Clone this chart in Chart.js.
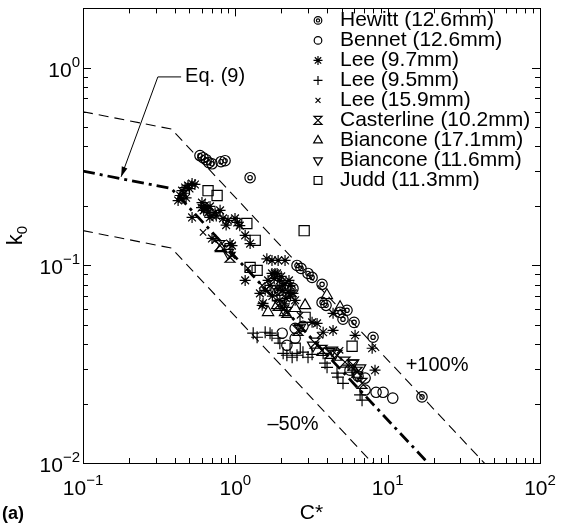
<!DOCTYPE html>
<html>
<head>
<meta charset="utf-8">
<script src="https://cdn.jsdelivr.net/npm/chart.js@4.4.0/dist/chart.umd.min.js"></script>
<style>
  html, body { margin: 0; padding: 0; background: #fff; }
</style>
</head>
<body>
<canvas id="chart" width="567" height="526"></canvas>
<script>
// data: [C*, k0]
const hewitt = [[0.586,0.36],[0.614,0.351],[0.643,0.343],[0.671,0.331],[0.703,0.327],[0.805,0.335],[0.856,0.339],
  [1.25,0.278],[2.54,0.100],[2.70,0.0966],[3.0,0.0911],[3.19,0.087],[3.71,0.0802],[1.85,0.0748],[2.39,0.0765],
  [3.71,0.065],[3.94,0.0628],[4.87,0.0579],[5.41,0.0593],[5.09,0.0534],[6.02,0.0515],[8.02,0.0433],[16.8,0.0216]];
const bennet = [[2.03,0.0454],[2.47,0.0481],[2.47,0.0428],[2.78,0.0492],[2.18,0.0394],[5.66,0.0295],[6.39,0.0275],
  [7.11,0.0269],[7.11,0.0234],[8.39,0.0228],[9.33,0.0228],[10.8,0.0213],[1.96,0.0748]];
const lee97 = [[0.434,0.226],[0.447,0.239],[0.468,0.248],[0.489,0.254],[0.520,0.260],[0.543,0.257],[0.447,0.218],
  [0.421,0.213],[0.604,0.208],[0.632,0.201],[0.652,0.194],[0.662,0.185],[0.682,0.199],[0.703,0.179],[0.736,0.185],
  [0.794,0.190],[0.830,0.173],[0.895,0.169],[0.995,0.173],[1.03,0.165],[1.07,0.159],[0.520,0.175],[1.16,0.142],
  [0.951,0.126],[0.703,0.137],[0.923,0.129],[1.25,0.129],[1.61,0.108],[1.74,0.106],[1.91,0.106],[2.12,0.106],
  [1.16,0.084],[1.74,0.0911],[1.88,0.0911],[1.64,0.084],[1.52,0.0643],[1.45,0.0722],[2.29,0.0792],[2.39,0.0722],
  [1.82,0.0911],[3.44,0.0509],[3.77,0.0459],[4.38,0.0572],[4.38,0.0469],[6.11,0.0443],[7.91,0.0381],[8.26,0.0295],
  [1.50,0.0628],[3.19,0.0515],[1.96,0.084],[2.12,0.0811],[2.03,0.0748],[2.22,0.0731],[2.15,0.0681],[1.69,0.0792],
  [1.57,0.0748],[2.47,0.0666],[1.96,0.0666],[0.46,0.232],[0.50,0.245],[0.475,0.22],[0.62,0.19],[0.68,0.175],
  [0.75,0.178],[0.87,0.16],[0.60,0.196],[1.80,0.086],[2.0,0.088],[2.25,0.084],[2.05,0.079],[1.90,0.076],
  [2.30,0.070],[2.10,0.064],[1.75,0.070]];
const lee95 = [[1.31,0.0454],[1.39,0.0433],[1.57,0.0459],[1.69,0.0454],[1.74,0.0443],[1.91,0.0428],[1.96,0.0404],
  [2.06,0.0359],[2.18,0.0351],[2.36,0.0343],[2.54,0.0351],[2.78,0.0364],[3.0,0.0343],[3.19,0.0355],[3.77,0.0359],
  [3.88,0.032],[4.0,0.0305],[4.72,0.0272],[5.09,0.0253],[6.59,0.0221],[6.79,0.0208],[4.65,0.0285],[5.50,0.0313],
  [5.84,0.0288]];
const lee159 = [[0.614,0.147],[0.736,0.134],[0.951,0.112],[1.21,0.0966],[1.50,0.0792],[2.66,0.0559],[3.60,0.0443],[4.87,0.0372]];
const casterline = [[0.794,0.126],[0.923,0.110],[1.91,0.0628],[2.18,0.0579],[3.34,0.0404],[3.71,0.0372],[4.19,0.0359],
  [4.65,0.0351],[5.25,0.0324],[5.93,0.0313],[6.30,0.0288],[6.79,0.0253],[2.58,0.0469]];
const biancone171 = [[0.805,0.122],[1.88,0.0628],[2.12,0.0579],[2.47,0.0607],[2.87,0.0628],[3.99,0.0706],[4.87,0.0614],[1.64,0.0579]];
const biancone116 = [[2.66,0.0486],[2.06,0.0607],[3.24,0.0394],[4.31,0.0372],[4.52,0.0359],[5.93,0.032],[6.30,0.0278],
  [6.59,0.0302],[0.895,0.116]];
const judd = [[0.662,0.239],[0.759,0.226],[1.19,0.163],[1.35,0.134],[2.83,0.150],[1.25,0.0977],[1.39,0.0944],
  [2.87,0.0546],[2.47,0.0381],[5.84,0.039]];

// Eq. (9) and the +100% / -50% bands
const eqC = [0.1, 0.38, 100];
const eqK = [0.30, 0.245, 0.00248];
const plusK = [0.60, 0.49, 0.0050];
const minusK = [0.15, 0.1225, 0.00124];

const xTicks = [0.1, 1, 10, 100];
const xTickExp = ['\u22121', '0', '1', '2'];
const yTicks = [0.01, 0.1, 1];
const yTickExp = ['\u22122', '\u22121', '0'];

const FONT = '"Liberation Sans", Arial, Helvetica, sans-serif';
const LW = 1.2;

function pts(arr) { return arr.map(p => ({x: p[0], y: p[1]})); }
function linePts(cs, ks) { return cs.map((c, i) => ({x: c, y: ks[i]})); }

function marker(label, data, style, radius, legendRadius, extra) {
  return Object.assign({
    label: label,
    data: pts(data),
    pointStyle: style,
    pointRadius: radius,
    legendRadius: legendRadius,
    pointBackgroundColor: 'rgba(0,0,0,0)',
    pointBorderColor: '#000',
    pointBorderWidth: LW,
    showLine: false
  }, extra || {});
}

function bandLine(ks, width, dash) {
  return {
    data: linePts(eqC, ks),
    showLine: true,
    pointRadius: 0,
    borderColor: '#000',
    borderWidth: width,
    borderDash: dash,
    fill: false,
    inLegend: false
  };
}

const datasets = [
  marker('Hewitt (12.6mm)', hewitt, 'circle', 5.2, 3.8, {ring: true}),
  marker('Bennet (12.6mm)', bennet, 'circle', 5.2, 3.8),
  marker('Lee (9.7mm)', lee97, 'star', 5.5, 4.5),
  marker('Lee (9.5mm)', lee95, 'cross', 6, 4.5),
  marker('Lee (15.9mm)', lee159, 'crossRot', 4.5, 3.5),
  marker('Casterline (10.2mm)', casterline, 'rect', 5, 4, {hourglass: true, pointBorderColor: 'rgba(0,0,0,0)'}),
  marker('Biancone (17.1mm)', biancone171, 'triangle', 6.5, 5),
  marker('Biancone (11.6mm)', biancone116, 'triangle', 6.5, 5, {pointRotation: 180}),
  marker('Judd (11.3mm)', judd, 'rect', 7.2, 5.5),
  bandLine(eqK, 2.8, [12, 5, 3, 5]),
  bandLine(plusK, 1.1, [10, 6]),
  bandLine(minusK, 1.1, [10, 6])
];

// text notes, placed in data coordinates
const eqNote = {text: 'Eq. (9)', C: 0.468, k: 0.90, elbowC: 0.31, tipC: 0.178, tipK: 0.281};
const plusNote = {text: '+100%', C: 21.1, k: 0.0313};
const minusNote = {text: '\u201350%', C: 2.39, k: 0.0157};

function drawHourglass(ctx, x, y, r) {
  ctx.beginPath();
  ctx.moveTo(x - r, y - r); ctx.lineTo(x + r, y - r); ctx.lineTo(x - r, y + r); ctx.lineTo(x + r, y + r);
  ctx.closePath();
  ctx.stroke();
}

function drawRing(ctx, x, y, r) {
  ctx.beginPath();
  ctx.arc(x, y, r, 0, Math.PI * 2);
  ctx.stroke();
}

// inner ring for Hewitt, hourglass for Casterline
const extraMarks = {
  id: 'extraMarks',
  afterDatasetsDraw(chart) {
    const ctx = chart.ctx;
    const a = chart.chartArea;
    ctx.save();
    ctx.beginPath();
    ctx.rect(a.left, a.top, a.right - a.left, a.bottom - a.top);
    ctx.clip();
    ctx.strokeStyle = '#000';
    ctx.lineWidth = LW;
    chart.data.datasets.forEach((ds, i) => {
      if (!ds.ring && !ds.hourglass) return;
      chart.getDatasetMeta(i).data.forEach(el => {
        if (ds.ring) drawRing(ctx, el.x, el.y, 2.2);
        if (ds.hourglass) drawHourglass(ctx, el.x, el.y, ds.pointRadius);
      });
    });
    ctx.restore();
  }
};

function logTicks(min, max) {
  const out = [];
  for (let d = min; d < max; d *= 10) {
    for (let m = 1; m < 10; m++) {
      const v = d * m;
      if (v <= max * 1.0001) out.push({v: v, major: m === 1});
    }
  }
  return out;
}

function supLabel(ctx, exp, px, baseY, align) {
  ctx.font = '21px ' + FONT;
  const w1 = ctx.measureText('10').width;
  ctx.font = '15px ' + FONT;
  const w2 = ctx.measureText(exp).width;
  const total = w1 + w2;
  const x0 = align === 'center' ? px - total / 2 : px - total;
  ctx.font = '21px ' + FONT;
  ctx.fillText('10', x0, baseY);
  ctx.font = '15px ' + FONT;
  ctx.fillText(exp, x0 + w1, baseY - 10);
}

const framePlugin = {
  id: 'frame',
  afterDraw(chart) {
    const {ctx, chartArea: a, scales: {x, y}} = chart;
    ctx.save();
    ctx.strokeStyle = '#000';
    ctx.fillStyle = '#000';
    ctx.lineWidth = 1;
    ctx.setLineDash([]);
    ctx.strokeRect(Math.round(a.left) + 0.5, Math.round(a.top) + 0.5, Math.round(a.right - a.left), Math.round(a.bottom - a.top));

    ctx.beginPath();
    logTicks(0.1, 100).forEach(t => {
      const px = Math.round(x.getPixelForValue(t.v)) + 0.5;
      const L = t.major ? 8 : 5;
      ctx.moveTo(px, a.bottom); ctx.lineTo(px, a.bottom - L);
      ctx.moveTo(px, a.top); ctx.lineTo(px, a.top + L);
    });
    logTicks(0.01, 2).forEach(t => {
      const py = Math.round(y.getPixelForValue(t.v)) + 0.5;
      const L = t.major ? 8 : 5;
      ctx.moveTo(a.left, py); ctx.lineTo(a.left + L, py);
      ctx.moveTo(a.right, py); ctx.lineTo(a.right - L, py);
    });
    ctx.stroke();

    ctx.textAlign = 'left';
    ctx.textBaseline = 'alphabetic';
    xTicks.forEach((v, i) => supLabel(ctx, xTickExp[i], x.getPixelForValue(v), a.bottom + 32, 'center'));
    yTicks.forEach((v, i) => supLabel(ctx, yTickExp[i], a.left - 3, y.getPixelForValue(v) + 9, 'right'));

    // axis titles
    ctx.font = '21px ' + FONT;
    ctx.textAlign = 'center';
    ctx.fillText('C*', (a.left + a.right) / 2, a.bottom + 56);
    ctx.save();
    ctx.translate(22, (a.top + a.bottom) / 2);
    ctx.rotate(-Math.PI / 2);
    ctx.textAlign = 'left';
    ctx.font = '22px ' + FONT;
    const kw = ctx.measureText('k').width;
    ctx.font = '15px ' + FONT;
    const sw = ctx.measureText('0').width;
    ctx.font = '22px ' + FONT;
    ctx.fillText('k', -(kw + sw) / 2, 0);
    ctx.font = '15px ' + FONT;
    ctx.fillText('0', -(kw + sw) / 2 + kw, 5);
    ctx.restore();
    ctx.font = 'bold 18px ' + FONT;
    ctx.textAlign = 'left';
    ctx.fillText('(a)', 2, a.bottom + 56);

    // notes
    ctx.font = '20px ' + FONT;
    ctx.textBaseline = 'middle';
    const ex = x.getPixelForValue(eqNote.C), ey = y.getPixelForValue(eqNote.k);
    ctx.fillText(eqNote.text, ex, ey);
    const elx = x.getPixelForValue(eqNote.elbowC);
    const tx = x.getPixelForValue(eqNote.tipC), ty = y.getPixelForValue(eqNote.tipK);
    ctx.beginPath();
    ctx.moveTo(ex - 4, ey); ctx.lineTo(elx, ey); ctx.lineTo(tx, ty);
    ctx.stroke();
    const ang = Math.atan2(ty - ey, tx - elx);
    ctx.beginPath();
    ctx.moveTo(tx, ty);
    ctx.lineTo(tx - 10 * Math.cos(ang) + 3 * Math.sin(ang), ty - 10 * Math.sin(ang) - 3 * Math.cos(ang));
    ctx.lineTo(tx - 10 * Math.cos(ang) - 3 * Math.sin(ang), ty - 10 * Math.sin(ang) + 3 * Math.cos(ang));
    ctx.closePath();
    ctx.fill();

    ctx.textAlign = 'center';
    [plusNote, minusNote].forEach(n => ctx.fillText(n.text, x.getPixelForValue(n.C), y.getPixelForValue(n.k)));
    ctx.restore();
  }
};

const insideLegend = {
  id: 'insideLegend',
  afterDraw(chart) {
    const ctx = chart.ctx;
    const a = chart.chartArea;
    let ly = a.top + 12;
    ctx.save();
    ctx.textBaseline = 'middle';
    ctx.textAlign = 'left';
    chart.data.datasets.forEach(ds => {
      if (ds.inLegend === false) return;
      const mx = a.left + 235;
      ctx.strokeStyle = '#000';
      ctx.fillStyle = 'rgba(0,0,0,0)';
      ctx.lineWidth = LW;
      if (ds.hourglass) {
        drawHourglass(ctx, mx, ly, ds.legendRadius);
      } else {
        Chart.helpers.drawPoint(ctx, {
          pointStyle: ds.pointStyle,
          radius: ds.legendRadius,
          rotation: ds.pointRotation || 0,
          borderWidth: LW
        }, mx, ly);
      }
      if (ds.ring) drawRing(ctx, mx, ly, 1.6);
      ctx.fillStyle = '#000';
      ctx.font = '21px ' + FONT;
      ctx.fillText(ds.label, a.left + 257, ly);
      ly += 20;
    });
    ctx.restore();
  }
};

new Chart(document.getElementById('chart').getContext('2d'), {
  type: 'scatter',
  data: {datasets: datasets},
  options: {
    responsive: false,
    animation: false,
    events: [],
    layout: {padding: {left: 83, right: 27, top: 7, bottom: 63}},
    scales: {
      x: {type: 'logarithmic', min: 0.1, max: 100, display: false},
      y: {type: 'logarithmic', min: 0.01, max: 2, display: false}
    },
    plugins: {
      legend: {display: false},
      tooltip: {enabled: false}
    }
  },
  plugins: [extraMarks, framePlugin, insideLegend]
});
</script>
</body>
</html>
